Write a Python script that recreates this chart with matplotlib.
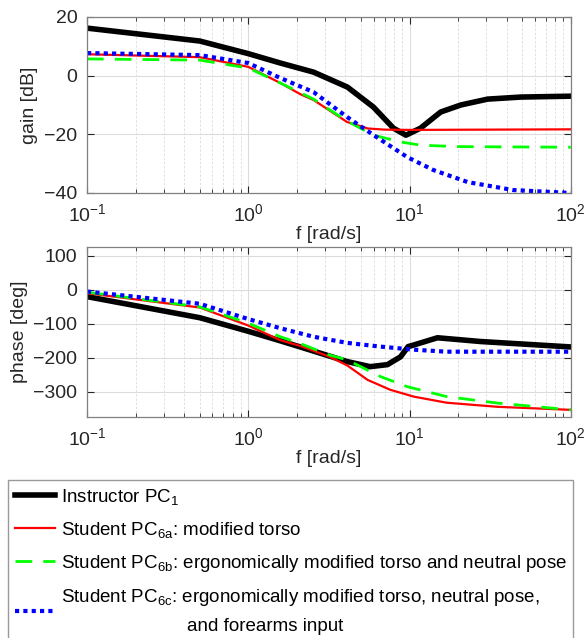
import matplotlib
matplotlib.use("Agg")
import matplotlib.pyplot as plt
from matplotlib.ticker import LogLocator, NullFormatter

plt.rcParams['font.family'] = ['Liberation Sans', 'DejaVu Sans']
plt.rcParams['mathtext.fontset'] = 'custom'
plt.rcParams['mathtext.rm'] = 'Liberation Sans'
plt.rcParams['mathtext.it'] = 'Liberation Sans:italic'
plt.rcParams['mathtext.default'] = 'regular'

# gain [dB]
f_gain_instr = [0.1, 0.5, 1, 1.58, 2.54, 4.12, 5.97, 7.95, 9.5, 11.7, 15.6, 20.8, 30.5, 49, 100]
gain_instr = [16.2, 11.8, 7.5, 4.3, 1.2, -3.9, -10.7, -17.9, -20.3, -17.9, -12.4, -10, -8, -7.3, -7]

f_gain_a = [0.1, 0.5, 1, 1.58, 2.1, 2.54, 4.1, 5.5, 7, 10, 100]
gain_a = [7.3, 6.3, 3, -2.5, -6.3, -8.3, -15.8, -18, -18.4, -18.5, -18.3]

f_gain_b = [0.1, 0.5, 1, 1.58, 2.54, 4.1, 6, 8.8, 11.7, 20, 100]
gain_b = [5.7, 5.3, 2.6, -2.5, -8, -15.5, -20.3, -22.6, -23.7, -24.2, -24.4]

f_gain_c = [0.1, 0.5, 1, 1.58, 2.54, 4.1, 6, 9.7, 14.1, 23, 44, 100]
gain_c = [7.7, 7, 4.3, -0.8, -5.6, -14.1, -20.3, -27.8, -32.2, -36.3, -39, -40]

# phase [deg]
f_ph_instr = [0.1, 0.5, 1, 1.58, 2.1, 3.2, 4.1, 5.7, 7.3, 8.8, 9.8, 10.5, 14.9, 27.5, 100]
ph_instr = [-20, -82, -122, -150, -168, -195, -211, -226, -220, -197, -167, -163, -141, -152, -168]

f_ph_a = [0.1, 0.5, 1, 1.58, 2.1, 3.2, 4.1, 5.5, 7.6, 10.6, 17, 35, 100]
ph_a = [-10, -52, -105, -148, -165, -197, -222, -265, -294, -314, -332, -344, -353]

f_ph_b = [0.1, 0.5, 1, 1.58, 2.1, 3.2, 4.1, 6.6, 9.7, 17, 35, 100]
ph_b = [-7, -50, -98, -138, -158, -192, -206, -255, -285, -314, -333, -353]

f_ph_c = [0.1, 0.5, 1, 1.58, 2.1, 2.54, 4.1, 6.6, 10.6, 17, 100]
ph_c = [-5, -41, -86, -113, -128, -138, -156, -167, -176, -182, -182]

labels = [
    "Instructor PC$_{1}$",
    "Student PC$_{6a}$: modified torso",
    "Student PC$_{6b}$: ergonomically modified torso and neutral pose",
    "Student PC$_{6c}$: ergonomically modified torso, neutral pose,\n"
    + " " * 24 + "and forearms input",
]

styles = [
    dict(color="black", lw=4.0, ls="-"),
    dict(color="#ff0000", lw=1.6, ls="-"),
    dict(color="#00ff00", lw=2.0, ls=(0, (6, 4))),
    dict(color="#0000ff", lw=3.0, ls=(0, (1, 1))),
]

fig = plt.figure(figsize=(5.86, 6.38), dpi=100)
ax1 = fig.add_axes([0.1485, 0.6975, 0.8255, 0.2759])
ax2 = fig.add_axes([0.1485, 0.3464, 0.8255, 0.2665])

gain_sets = [(f_gain_instr, gain_instr), (f_gain_a, gain_a), (f_gain_b, gain_b), (f_gain_c, gain_c)]
phase_sets = [(f_ph_instr, ph_instr), (f_ph_a, ph_a), (f_ph_b, ph_b), (f_ph_c, ph_c)]

handles = []
for (f, g), st, lab in zip(gain_sets, styles, labels):
    h, = ax1.plot(f, g, label=lab, **st)
    handles.append(h)
for (f, p), st in zip(phase_sets, styles):
    ax2.plot(f, p, **st)

txt = "#262626"
for ax in (ax1, ax2):
    ax.set_xscale("log")
    ax.set_xlim(0.1, 100)
    ax.xaxis.set_minor_locator(LogLocator(base=10, subs=range(2, 10), numticks=20))
    ax.xaxis.set_minor_formatter(NullFormatter())
    ax.grid(True, which="major", color="#dcdcdc", lw=0.8)
    ax.grid(True, which="minor", axis="x", color="#dcdcdc", lw=0.6, ls=(0, (3, 2)))
    ax.tick_params(which="both", direction="in", top=True, right=True, colors=txt,
                   labelsize=14, pad=7)
    ax.tick_params(which="major", length=5)
    ax.tick_params(which="minor", length=3)
    for s in ax.spines.values():
        s.set_color("#808080")
        s.set_linewidth(0.9)
    ax.set_xlabel("f [rad/s]", fontsize=14, color=txt, labelpad=1)
    ax.set_axisbelow(True)

ax1.set_ylim(-40, 20)
ax1.set_yticks([-40, -20, 0, 20])
ax1.set_ylabel("gain [dB]", fontsize=14, color=txt)

ax2.set_ylim(-374, 126)
ax2.set_yticks([-300, -200, -100, 0, 100])
ax2.set_ylabel("phase [deg]", fontsize=14, color=txt)

leg = fig.legend(handles=handles, loc="upper left", bbox_to_anchor=(0.0137, 0.2476),
                 bbox_transform=fig.transFigure, fontsize=13.5, frameon=True, fancybox=False,
                 edgecolor="#808080", borderaxespad=0, handlelength=2.15, handletextpad=0.3,
                 labelspacing=0.7, borderpad=0.35)
leg.get_texts()[3].set_linespacing(1.75)

fig.savefig("out.png", dpi=100)
